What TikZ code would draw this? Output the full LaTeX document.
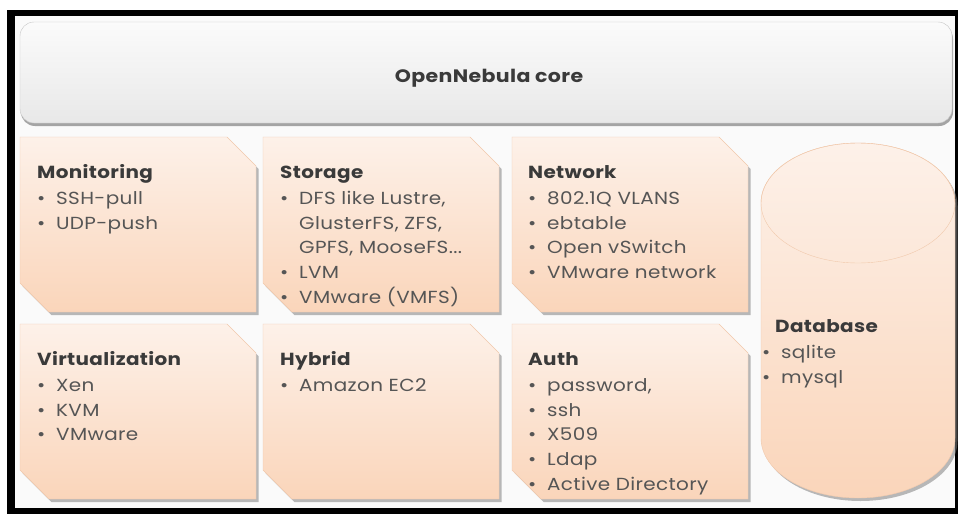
\documentclass[tikz,border=0pt]{standalone}
\usepackage{fontspec}
\setmainfont{Poppins}[FakeStretch=1.14, LetterSpace=2]
\usetikzlibrary{shadows}
\definecolor{peachtop}{HTML}{FDF1E9}
\definecolor{peachbot}{HTML}{FAD5BA}
\definecolor{peachline}{HTML}{F1C9AC}
\definecolor{coretop}{HTML}{FBFBFB}
\definecolor{corebot}{HTML}{E8E8E8}
\definecolor{headtext}{HTML}{3A3A3A}
\definecolor{itemtext}{HTML}{555555}
\newcommand{\bul}{\makebox[19pt][l]{\textbullet}}
% box with cut top right and bottom left corners
\newcommand{\plugshape}[2]{\path[plugbox] (#1,#2) -- ++(207,0) -- ++(29,29) -- ++(0,146)
    -- ++(-207,0) -- ++(-29,-29) -- cycle;}
\begin{document}
\begin{tikzpicture}[
        x=1pt, y=-1pt,
        font=\fontsize{17.5}{24.8}\selectfont
    ]
    \tikzset{
        corebox/.style = {rectangle, rounded corners=14pt, draw=gray!45, top color=coretop, bottom color=corebot,
            minimum width=932pt, minimum height=101pt, inner sep=0pt, outer sep=0pt,
            drop shadow={opacity=0.7, shadow xshift=1pt, shadow yshift=-3pt}},
        plugbox/.style = {draw=peachline, top color=peachtop, bottom color=peachbot,
            drop shadow={opacity=0.55, shadow xshift=2.5pt, shadow yshift=-3pt}},
        plugtext/.style = {anchor=base west, inner sep=0pt, text=itemtext},
        dbshape/.style = {draw=peachline, top color=peachtop, bottom color=peachbot,
            drop shadow={opacity=0.55, shadow xshift=2.5pt, shadow yshift=-3pt}},
    }
    \useasboundingbox (0,0) rectangle (958,514);
    \fill[white] (0,0) rectangle (958,514);
    \fill[black] (7,10) rectangle (958,514);
    \fill[gray!4] (15,16) rectangle (955,508);
    % core
    \node[corebox] at (486,72.5) (core) {};
    \node[anchor=base, text=headtext, font=\fontsize{18}{24}\selectfont\bfseries] at (489,82) (coretxt) {OpenNebula core};
    % plugin boxes
    \plugshape{20}{137}
    \plugshape{263}{137}
    \plugshape{512}{137}
    \plugshape{20}{324}
    \plugshape{263}{324}
    \plugshape{512}{324}
    %
    \node[plugtext] at (37,178) (montxt) {\begin{tabular}[t]{@{}l@{}}\textcolor{headtext}{\bfseries Monitoring}\\[1.5pt]
        \bul SSH-pull\\ \bul UDP-push\end{tabular}};
    \node[plugtext] at (280,178) (stotxt) {\begin{tabular}[t]{@{}l@{}}\textcolor{headtext}{\bfseries Storage}\\[1.5pt]
        \bul DFS like Lustre,\\ \hspace*{19pt}GlusterFS, ZFS,\\ \hspace*{19pt}GPFS, MooseFS...\\ \bul LVM\\ \bul VMware (VMFS)\end{tabular}};
    \node[plugtext] at (528,178) (nettxt) {\begin{tabular}[t]{@{}l@{}}\textcolor{headtext}{\bfseries Network}\\[1.5pt]
        \bul 802.1Q VLANS\\ \bul ebtable\\ \bul Open vSwitch\\ \bul VMware network\end{tabular}};
    \node[plugtext] at (37,365) (virtxt) {\begin{tabular}[t]{@{}l@{}}\textcolor{headtext}{\bfseries Virtualization}\\[1.5pt]
        \bul Xen\\ \bul KVM\\ \bul VMware\end{tabular}};
    \node[plugtext] at (280,365) (hybtxt) {\begin{tabular}[t]{@{}l@{}}\textcolor{headtext}{\bfseries Hybrid}\\[1.5pt]
        \bul Amazon EC2\end{tabular}};
    \node[plugtext] at (528,365) (auttxt) {\begin{tabular}[t]{@{}l@{}}\textcolor{headtext}{\bfseries Auth}\\[1.5pt]
        \bul password,\\ \bul ssh\\ \bul X509\\ \bul Ldap\\ \bul Active Directory\end{tabular}};
    % database
    \path[dbshape] (761,203) -- (761,438) arc[start angle=180, end angle=0, x radius=97, y radius=60]
        -- (955,203) arc[start angle=0, end angle=-180, x radius=97, y radius=60] -- cycle;
    \draw[peachline] (858,203) ellipse[x radius=97, y radius=60];
    \node[plugtext] at (762,332) (dbtxt) {\begin{tabular}[t]{@{}l@{}}\hspace*{13pt}\textcolor{headtext}{\bfseries Database}\\[1.5pt]
        \bul sqlite\\ \bul mysql\end{tabular}};
\end{tikzpicture}
\end{document}
